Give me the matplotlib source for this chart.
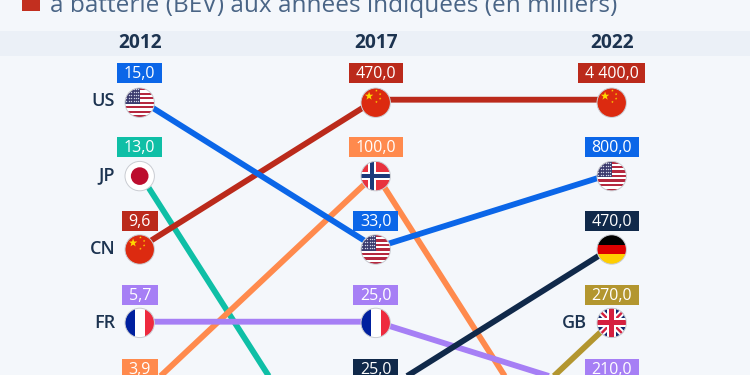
import numpy as np
import matplotlib
matplotlib.use('Agg')
import matplotlib.pyplot as plt
from matplotlib.patches import Circle, Rectangle, Polygon
from matplotlib.transforms import Affine2D, IdentityTransform

# Данные: позиция страны в рейтинге по годам
years = [2012, 2017, 2022]
# порядок стран = порядок отрисовки линий
countries = ['JP', 'NO', 'FR', 'GB', 'DE', 'CN', 'US']
rank_jp = [2, 7, 8]
rank_no = [5, 2, 7]
rank_fr = [4, 4, 5]
rank_gb = [9, 7, 4]
rank_de = [8, 5, 3]
rank_cn = [3, 1, 1]
rank_us = [1, 3, 2]
val_jp = ['13,0', None, None]
val_no = ['3,9', '100,0', None]
val_fr = ['5,7', '25,0', '210,0']
val_gb = [None, None, '270,0']
val_de = [None, '25,0', '470,0']
val_cn = ['9,6', '470,0', '4 400,0']
val_us = ['15,0', '33,0', '800,0']
colors = {'JP': '#0fbfa6', 'NO': '#ff8a4d', 'GB': '#b3962f', 'FR': '#a67ff5',
          'DE': '#10294a', 'US': '#0b66e8', 'CN': '#bb2a1b'}
ranks = dict(zip(countries, [rank_jp, rank_no, rank_fr, rank_gb, rank_de, rank_cn, rank_us]))
vals = dict(zip(countries, [val_jp, val_no, val_fr, val_gb, val_de, val_cn, val_us]))
# подпись страны слева от флага: в каком году она стоит
name_year = {'US': 2012, 'JP': 2012, 'CN': 2012, 'FR': 2012, 'NO': 2012, 'GB': 2022}

BG = '#f4f7fb'
NAVY = '#1c3350'
plt.rcParams['font.family'] = ['Open Sans', 'DejaVu Sans']

fig = plt.figure(figsize=(7.5, 3.75), dpi=100, facecolor=BG)
ax = fig.add_axes([0, 0, 1, 1], facecolor=BG)
ax.axis('off')
# 2012 -> 139.7 px, 2022 -> 611.7 px, ранг 1 -> 99.7 px, шаг 74 px
ax.set_xlim(2012 - 139.7 / 47.2, 2012 + (750 - 139.7) / 47.2)
ax.set_ylim(1 + (375 - 99.7) / 74, 1 - 99.7 / 74)


def to_disp(year, rank):
    return ax.transData.transform((year, rank))


R = 14.7


def flag(code, year, rank):
    cx, cy = to_disp(year, rank)
    cy -= 3 - 0.6 * (rank - 1)  # флаг чуть ниже линии
    tr = Affine2D().scale(R).translate(cx, cy)
    clip = Circle((0, 0), 1, transform=tr, fc='white', ec='none', zorder=5)
    ax.add_patch(clip)

    def rect(x0, y0, w, h, c):
        p = Rectangle((x0, y0), w, h, transform=tr, fc=c, ec='none', zorder=6)
        p.set_clip_path(clip)
        ax.add_patch(p)

    if code == 'US':
        for i in range(13):
            rect(-1, 1 - (i + 1) * 2 / 13, 2, 2 / 13, '#b5283f' if i % 2 == 0 else 'white')
        rect(-1, 1 - 14 / 13, 1.0, 14 / 13, '#3c3b6e')
        xs, ys = np.meshgrid(np.linspace(-0.9, -0.1, 6), np.linspace(0.1, 0.9, 5))
        d = ax.scatter(xs.ravel(), ys.ravel(), s=1.0, c='#cfd4e6', lw=0, transform=tr, zorder=7)
        d.set_clip_path(clip)
    elif code == 'JP':
        ax.add_patch(Circle((0, 0), 0.6, transform=tr, fc='#bc0d2e', ec='none', zorder=6))
    elif code == 'CN':
        rect(-1, -1, 2, 2, '#dc2a10')
        sx = [-0.45, 0.05, 0.3, 0.3, 0.05]
        sy = [0.45, 0.82, 0.58, 0.28, 0.05]
        ang = np.arange(10) * np.pi / 5 + np.pi / 2
        for i, (a, b) in enumerate(zip(sx, sy)):
            r = np.where(np.arange(10) % 2 == 0, 1, 0.4) * (0.3 if i == 0 else 0.09)
            ax.add_patch(Polygon(np.c_[a + r * np.cos(ang), b + r * np.sin(ang)],
                                 transform=tr, fc='#fdd900', ec='none', zorder=7))
    elif code == 'FR':
        rect(-1, -1, 0.67, 2, '#00209f')
        rect(0.33, -1, 0.67, 2, '#ee2a3e')
    elif code == 'NO':
        rect(-1, -1, 2, 2, '#e8323e')
        rect(-0.55, -1, 0.56, 2, 'white')
        rect(-1, -0.28, 2, 0.56, 'white')
        rect(-0.41, -1, 0.28, 2, '#1c3a7a')
        rect(-1, -0.14, 2, 0.28, '#1c3a7a')
    elif code == 'DE':
        rect(-1, 0.33, 2, 0.67, '#000000')
        rect(-1, -0.33, 2, 0.66, '#dd0000')
        rect(-1, -1, 2, 0.67, '#ffce00')
    elif code == 'GB':
        rect(-1, -1, 2, 2, '#12286e')
        for sgn in (1, -1):
            for w, c in ((9, 'white'), (3.5, '#d5203f')):
                ln, = ax.plot([-1, 1], [-sgn, sgn], color=c, lw=w * 0.5, transform=tr, zorder=6,
                              solid_capstyle='butt')
                ln.set_clip_path(clip)
        rect(-0.3, -1, 0.6, 2, 'white')
        rect(-1, -0.3, 2, 0.6, 'white')
        rect(-0.17, -1, 0.34, 2, '#d5203f')
        rect(-1, -0.17, 2, 0.34, '#d5203f')
    ax.add_patch(Circle((0, 0), 1, transform=tr, fc='none', ec='#c9ccd2', lw=0.7, zorder=8))


def box_label(text, color, year, rank):
    cx, cy = to_disp(year, rank)
    w = {3: 36, 4: 45, 5: 54}.get(len(text), 67)
    top = cy + 36.7  # от линии вверх
    ax.add_patch(Rectangle((cx - w / 2, top - 20), w, 20, transform=IdentityTransform(),
                           fc=color, ec='none', zorder=9))
    ax.text(cx, top - 10.5, text, transform=IdentityTransform(), color='white', fontsize=11.5,
            ha='center', va='center', zorder=10)


# шапка
ax.add_patch(Rectangle((0, 1 - 56 / 375), 1, 25 / 375, transform=ax.transAxes,
                       fc='#ebf0f7', ec='none', zorder=1))
for y in years:
    cx, _ = to_disp(y, 1)
    ax.text(cx, 375 - 43.5, str(y), transform=IdentityTransform(), fontsize=13.8, fontweight='bold',
            color=NAVY, ha='center', va='center', zorder=3)

# заголовок (обрезан сверху)
ax.add_patch(Rectangle((22 / 750, 1 - 11 / 375), 18 / 750, 12 / 375, transform=ax.transAxes,
                       fc='#c22f1f', ec='none', zorder=3))
ax.text(50 / 750, 1 - 11.5 / 375, 'à batterie (BEV) aux années indiquées (en milliers)',
        transform=ax.transAxes, fontsize=17.55, color='#4a6586', ha='left', va='baseline', zorder=3)

# линии
for c in countries:
    ax.plot(years, ranks[c], color=colors[c], lw=4.2, zorder=3, solid_capstyle='butt',
            solid_joinstyle='miter')

# флаги, значения
for c in countries:
    for y, r, v in zip(years, ranks[c], vals[c]):
        if r <= 5:
            flag(c, y, r)
        if v is not None:
            box_label(v, colors[c], y, r)
    ny = name_year.get(c)
    if ny is not None:
        r = ranks[c][years.index(ny)]
        cx, cy = to_disp(ny, r)
        ax.text(cx - 24.5, cy - 1, c, transform=IdentityTransform(), fontsize=13, fontweight='semibold',
                color=NAVY, ha='right', va='center', zorder=10)

fig.savefig('out.png', dpi=100, facecolor=BG)
